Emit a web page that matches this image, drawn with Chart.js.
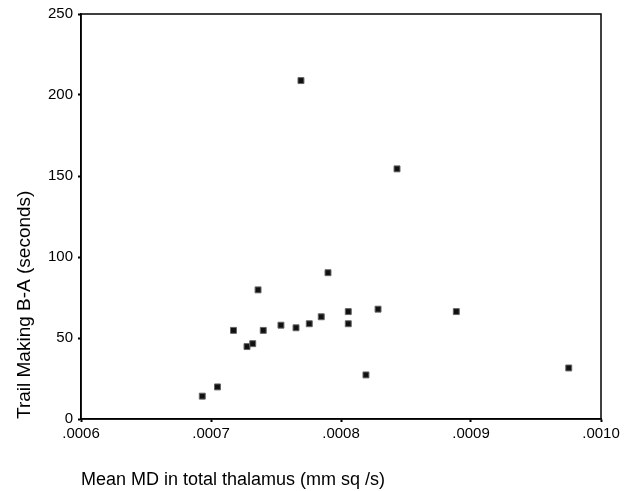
<!DOCTYPE html>
<html>
<head>
<meta charset="utf-8">
<script src="https://cdn.jsdelivr.net/npm/chart.js@4/dist/chart.umd.min.js"></script>
<style>
  html, body { margin: 0; padding: 0; background: #fff; }
  #wrap { width: 632px; height: 491px; position: relative; }
</style>
</head>
<body>
<div id="wrap"><canvas id="c" width="632" height="491"></canvas></div>
<script>
// Data
const meanMD = [0.0006933, 0.0007050, 0.0007173, 0.0007277, 0.0007321, 0.0007362, 0.0007402,
                0.0007538, 0.0007654, 0.0007692, 0.0007756, 0.0007848, 0.0007900, 0.0008056,
                0.0008056, 0.0008192, 0.0008285, 0.0008431, 0.0008887, 0.0009752];
const trailBA = [14.1, 19.8, 54.7, 44.7, 46.5, 79.7, 54.7,
                 57.9, 56.3, 208.9, 58.8, 63.1, 90.3, 66.3,
                 58.8, 27.2, 67.8, 154.4, 66.3, 31.5];
const xTicks = [0.0006, 0.0007, 0.0008, 0.0009, 0.0010];
const yTicks = [0, 50, 100, 150, 200, 250];
const xTitle = 'Mean MD in total thalamus (mm sq /s)';
const yTitle = 'Trail Making B-A (seconds)';

const points = meanMD.map((x, i) => ({ x: x, y: trailBA[i] }));
const FONT = 'Liberation Sans, Arial, sans-serif';

const frame = {
  id: 'frame',
  afterDatasetsDraw(chart) {
    const a = chart.chartArea, ctx = chart.ctx;
    ctx.save();
    ctx.strokeStyle = '#000';
    ctx.lineWidth = 1.5;
    ctx.strokeRect(a.left, a.top, a.right - a.left, a.bottom - a.top);
    ctx.restore();
  }
};

new Chart(document.getElementById('c'), {
  type: 'scatter',
  data: {
    datasets: [{
      data: points,
      pointStyle: 'rect',
      pointRadius: 4.2,
      pointHoverRadius: 4.2,
      backgroundColor: '#111',
      borderColor: '#666',
      borderWidth: 1
    }]
  },
  options: {
    responsive: false,
    animation: false,
    devicePixelRatio: 1,
    layout: { padding: { top: 12, right: 31, bottom: 0, left: 0 } },
    plugins: { legend: { display: false }, tooltip: { enabled: false } },
    scales: {
      x: {
        type: 'linear',
        min: xTicks[0],
        max: xTicks[xTicks.length - 1],
        afterBuildTicks: s => { s.ticks = xTicks.map(v => ({ value: v })); },
        afterFit: s => { s.height = 72; },
        grid: { drawOnChartArea: false, tickLength: 3, tickColor: '#000', tickWidth: 2 },
        border: { color: '#000', width: 1.5 },
        ticks: {
          color: '#000',
          font: { family: FONT, size: 15 },
          padding: 3,
          maxRotation: 0,
          autoSkip: false,
          callback: v => Number(v).toFixed(4).replace(/^0/, '')
        },
        title: {
          display: true,
          text: xTitle,
          align: 'start',
          color: '#000',
          font: { family: FONT, size: 18 },
          padding: { top: 0, bottom: 0 }
        }
      },
      y: {
        type: 'linear',
        min: yTicks[0],
        max: yTicks[yTicks.length - 1],
        afterBuildTicks: s => { s.ticks = yTicks.map(v => ({ value: v })); },
        afterFit: s => { s.width = 81; },
        grid: { drawOnChartArea: false, tickLength: 3, tickColor: '#000', tickWidth: 2 },
        border: { color: '#000', width: 1.5 },
        ticks: {
          color: '#000',
          font: { family: FONT, size: 15 },
          padding: 5,
          autoSkip: false
        },
        title: {
          display: true,
          text: yTitle,
          align: 'start',
          color: '#000',
          font: { family: FONT, size: 19 },
          padding: { top: 13, bottom: 0 }
        }
      }
    }
  },
  plugins: [frame]
});
</script>
</body>
</html>
